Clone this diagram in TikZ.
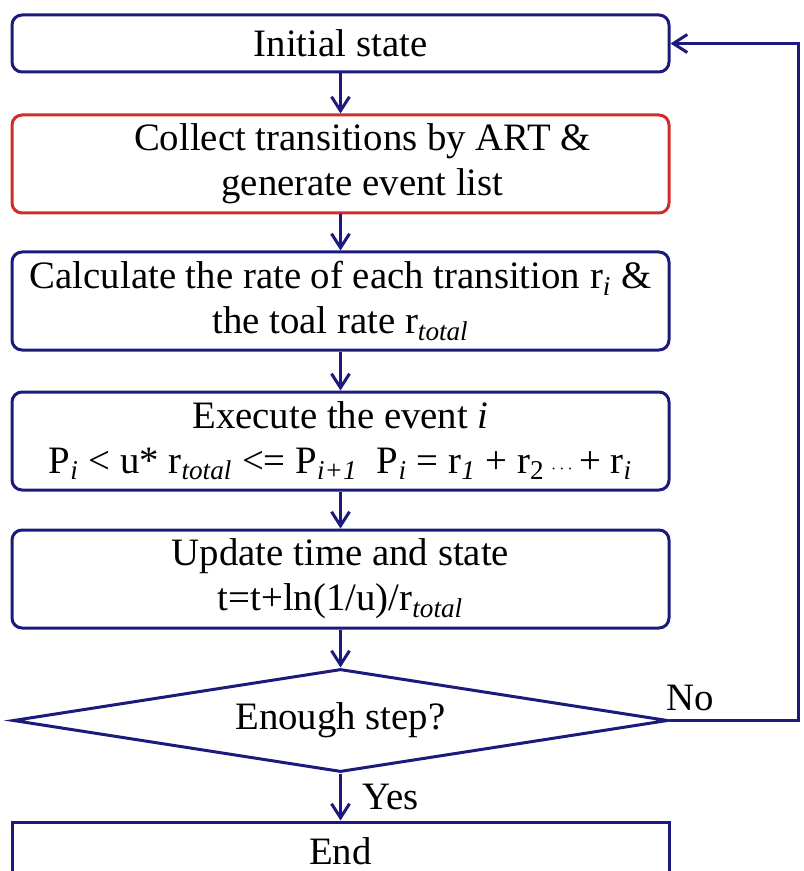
\documentclass[tikz,border=0pt]{standalone}
\usepackage{fontspec}
\setmainfont{Liberation Serif}
\usetikzlibrary{arrows.meta,shapes.geometric}
\definecolor{flownavy}{RGB}{28,26,125}
\definecolor{flowred}{RGB}{208,44,44}
\newcommand{\sbi}[1]{\textsubscript{\itshape #1}}
\tikzset{
	flowfont/.style={font=\fontsize{19.4}{22.5}\selectfont},
	flowbox/.style={flowfont, draw=flownavy, line width=1.5pt, rounded corners=5pt, align=center, minimum width=328.5pt, minimum height=49pt, inner sep=0pt},
	flowcheck/.style={flowfont, draw=flownavy, line width=1.5pt, shape=diamond, aspect=6.36, minimum width=327.5pt, minimum height=51.5pt, inner sep=0pt},
	flowarrow/.style={draw=flownavy, line width=1.5pt, -{Straight Barb[length=7pt,width=9pt]}},
	flowlabel/.style={flowfont, inner sep=0pt}
}

\begin{document}
\begin{tikzpicture}[x=0.5pt, y=-0.5pt]
			%%%%% START %%%%%
			\useasboundingbox (0, 0) rectangle (803, 871);
			\clip (0, 0) rectangle (803, 871);
			
			\node[flowbox, minimum height=28.5pt] (init) at (340.5, 43.5) {Initial state};
			\node[flowbox, draw=flowred] (collect) at (340.5, 164) {\hspace*{22pt}Collect transitions by ART \&\\\hspace*{22pt}generate event list};
			\node[flowbox] (rate) at (340.5, 301) {Calculate the rate of each transition r\sbi{i} \&\\the toal rate r\sbi{total}};
			\node[flowbox] (exec) at (340.5, 441) {Execute the event \textit{i}\\P\sbi{i} < u* r\sbi{total} <= P\sbi{i+1}\enspace P\sbi{i} = r\sbi{1} + r\textsubscript{2}\,{\small$\cdots$}\,+ r\sbi{i}};
			\node[flowbox] (update) at (340.5, 579) {Update time and state\\t=t+ln(1/u)/r\sbi{total}};
			\node[flowcheck] (check) at (340.5, 720.5) {Enough step?};
			\node[flowbox, rounded corners=0pt, minimum height=29pt] (done) at (340.5, 851) {End};
			
			\draw[flowarrow] (init) -- (collect);
			\draw[flowarrow] (collect) -- (rate);
			\draw[flowarrow] (rate) -- (exec);
			\draw[flowarrow] (exec) -- (update);
			\draw[flowarrow] (update) -- (check);
			\draw[flowarrow] (check) -- (done);
			
			% loop back
			\coordinate (loopdown) at (798, 720.5);
			\coordinate (loopup) at (798, 43.5);
			\draw[flowarrow] (check.east) -- (loopdown) -- (loopup) -- (init.east);
			
			\node[flowlabel] (nolabel) at (690, 698) {No};
			\node[flowlabel, anchor=west] (yeslabel) at (362, 797) {Yes};
			%%%%% END %%%%%
\end{tikzpicture}
\end{document}
